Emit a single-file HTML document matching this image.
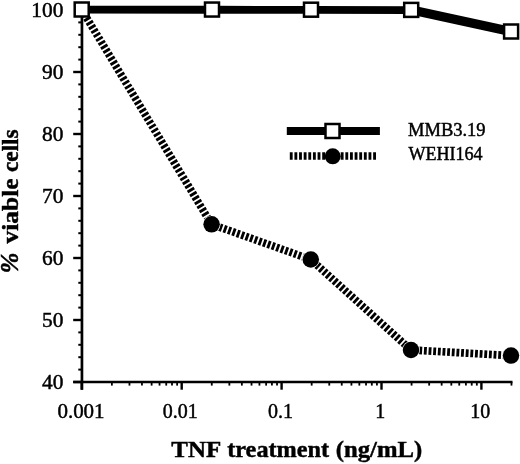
<!DOCTYPE html>
<html><head><meta charset="utf-8"><style>
html,body{margin:0;padding:0;background:#fff;}
body{width:520px;height:464px;overflow:hidden;}
svg{display:block;filter:grayscale(1) blur(0.35px);}
text{font-family:"Liberation Serif",serif;fill:#000;stroke:#000;stroke-width:0.45px;}
</style></head><body>
<svg width="520" height="464" viewBox="0 0 520 464">
<rect width="520" height="464" fill="#fff"/>

<g stroke="#000" fill="none">
<line x1="81.95" y1="9" x2="81.95" y2="389.7" stroke-width="2.7"/>
<line x1="73.2" y1="382.0" x2="512.5" y2="382.0" stroke-width="2.7"/>
<line x1="73.2" y1="382.00" x2="81.95" y2="382.00" stroke-width="2.4"/>
<line x1="78.3" y1="369.60" x2="81.95" y2="369.60" stroke-width="2"/>
<line x1="78.3" y1="357.20" x2="81.95" y2="357.20" stroke-width="2"/>
<line x1="78.3" y1="344.80" x2="81.95" y2="344.80" stroke-width="2"/>
<line x1="78.3" y1="332.40" x2="81.95" y2="332.40" stroke-width="2"/>
<line x1="73.2" y1="320.00" x2="81.95" y2="320.00" stroke-width="2.4"/>
<line x1="78.3" y1="307.60" x2="81.95" y2="307.60" stroke-width="2"/>
<line x1="78.3" y1="295.20" x2="81.95" y2="295.20" stroke-width="2"/>
<line x1="78.3" y1="282.80" x2="81.95" y2="282.80" stroke-width="2"/>
<line x1="78.3" y1="270.40" x2="81.95" y2="270.40" stroke-width="2"/>
<line x1="73.2" y1="258.00" x2="81.95" y2="258.00" stroke-width="2.4"/>
<line x1="78.3" y1="245.60" x2="81.95" y2="245.60" stroke-width="2"/>
<line x1="78.3" y1="233.20" x2="81.95" y2="233.20" stroke-width="2"/>
<line x1="78.3" y1="220.80" x2="81.95" y2="220.80" stroke-width="2"/>
<line x1="78.3" y1="208.40" x2="81.95" y2="208.40" stroke-width="2"/>
<line x1="73.2" y1="196.00" x2="81.95" y2="196.00" stroke-width="2.4"/>
<line x1="78.3" y1="183.60" x2="81.95" y2="183.60" stroke-width="2"/>
<line x1="78.3" y1="171.20" x2="81.95" y2="171.20" stroke-width="2"/>
<line x1="78.3" y1="158.80" x2="81.95" y2="158.80" stroke-width="2"/>
<line x1="78.3" y1="146.40" x2="81.95" y2="146.40" stroke-width="2"/>
<line x1="73.2" y1="134.00" x2="81.95" y2="134.00" stroke-width="2.4"/>
<line x1="78.3" y1="121.60" x2="81.95" y2="121.60" stroke-width="2"/>
<line x1="78.3" y1="109.20" x2="81.95" y2="109.20" stroke-width="2"/>
<line x1="78.3" y1="96.80" x2="81.95" y2="96.80" stroke-width="2"/>
<line x1="78.3" y1="84.40" x2="81.95" y2="84.40" stroke-width="2"/>
<line x1="73.2" y1="72.00" x2="81.95" y2="72.00" stroke-width="2.4"/>
<line x1="78.3" y1="59.60" x2="81.95" y2="59.60" stroke-width="2"/>
<line x1="78.3" y1="47.20" x2="81.95" y2="47.20" stroke-width="2"/>
<line x1="78.3" y1="34.80" x2="81.95" y2="34.80" stroke-width="2"/>
<line x1="78.3" y1="22.40" x2="81.95" y2="22.40" stroke-width="2"/>
<line x1="74.5" y1="10.00" x2="81.95" y2="10.00" stroke-width="2.4"/>
<line x1="81.80" y1="382.0" x2="81.80" y2="389.7" stroke-width="2.4"/>
<line x1="111.87" y1="382.0" x2="111.87" y2="385.6" stroke-width="1.8"/>
<line x1="129.46" y1="382.0" x2="129.46" y2="385.6" stroke-width="1.8"/>
<line x1="141.95" y1="382.0" x2="141.95" y2="385.6" stroke-width="1.8"/>
<line x1="151.63" y1="382.0" x2="151.63" y2="385.6" stroke-width="1.8"/>
<line x1="159.54" y1="382.0" x2="159.54" y2="385.6" stroke-width="1.8"/>
<line x1="166.23" y1="382.0" x2="166.23" y2="385.6" stroke-width="1.8"/>
<line x1="172.02" y1="382.0" x2="172.02" y2="385.6" stroke-width="1.8"/>
<line x1="177.13" y1="382.0" x2="177.13" y2="385.6" stroke-width="1.8"/>
<line x1="181.70" y1="382.0" x2="181.70" y2="389.7" stroke-width="2.4"/>
<line x1="211.77" y1="382.0" x2="211.77" y2="385.6" stroke-width="1.8"/>
<line x1="229.36" y1="382.0" x2="229.36" y2="385.6" stroke-width="1.8"/>
<line x1="241.85" y1="382.0" x2="241.85" y2="385.6" stroke-width="1.8"/>
<line x1="251.53" y1="382.0" x2="251.53" y2="385.6" stroke-width="1.8"/>
<line x1="259.44" y1="382.0" x2="259.44" y2="385.6" stroke-width="1.8"/>
<line x1="266.13" y1="382.0" x2="266.13" y2="385.6" stroke-width="1.8"/>
<line x1="271.92" y1="382.0" x2="271.92" y2="385.6" stroke-width="1.8"/>
<line x1="277.03" y1="382.0" x2="277.03" y2="385.6" stroke-width="1.8"/>
<line x1="281.60" y1="382.0" x2="281.60" y2="389.7" stroke-width="2.4"/>
<line x1="311.67" y1="382.0" x2="311.67" y2="385.6" stroke-width="1.8"/>
<line x1="329.26" y1="382.0" x2="329.26" y2="385.6" stroke-width="1.8"/>
<line x1="341.75" y1="382.0" x2="341.75" y2="385.6" stroke-width="1.8"/>
<line x1="351.43" y1="382.0" x2="351.43" y2="385.6" stroke-width="1.8"/>
<line x1="359.34" y1="382.0" x2="359.34" y2="385.6" stroke-width="1.8"/>
<line x1="366.03" y1="382.0" x2="366.03" y2="385.6" stroke-width="1.8"/>
<line x1="371.82" y1="382.0" x2="371.82" y2="385.6" stroke-width="1.8"/>
<line x1="376.93" y1="382.0" x2="376.93" y2="385.6" stroke-width="1.8"/>
<line x1="381.50" y1="382.0" x2="381.50" y2="389.7" stroke-width="2.4"/>
<line x1="411.57" y1="382.0" x2="411.57" y2="385.6" stroke-width="1.8"/>
<line x1="429.16" y1="382.0" x2="429.16" y2="385.6" stroke-width="1.8"/>
<line x1="441.65" y1="382.0" x2="441.65" y2="385.6" stroke-width="1.8"/>
<line x1="451.33" y1="382.0" x2="451.33" y2="385.6" stroke-width="1.8"/>
<line x1="459.24" y1="382.0" x2="459.24" y2="385.6" stroke-width="1.8"/>
<line x1="465.93" y1="382.0" x2="465.93" y2="385.6" stroke-width="1.8"/>
<line x1="471.72" y1="382.0" x2="471.72" y2="385.6" stroke-width="1.8"/>
<line x1="476.83" y1="382.0" x2="476.83" y2="385.6" stroke-width="1.8"/>
<line x1="481.40" y1="382.0" x2="481.40" y2="389.7" stroke-width="2.4"/>
<line x1="511.47" y1="382.0" x2="511.47" y2="385.6" stroke-width="1.8"/>
</g>
<line x1="81.8" y1="9.8" x2="211.6" y2="224.3" stroke="#000" stroke-width="7.7" stroke-dasharray="2.85 1.8" stroke-dashoffset="0"/>
<line x1="211.6" y1="224.3" x2="310.8" y2="259.5" stroke="#000" stroke-width="7.7" stroke-dasharray="2.85 1.8" stroke-dashoffset="1.0"/>
<line x1="310.8" y1="259.5" x2="411.0" y2="350.0" stroke="#000" stroke-width="7.7" stroke-dasharray="2.85 1.8" stroke-dashoffset="1.0"/>
<line x1="411.0" y1="350.0" x2="511.0" y2="355.6" stroke="#000" stroke-width="7.7" stroke-dasharray="2.85 1.8" stroke-dashoffset="1.0"/>
<circle cx="211.6" cy="224.3" r="8.9" fill="#fff"/>
<circle cx="211.6" cy="224.3" r="8.25" fill="#000"/>
<circle cx="310.8" cy="259.5" r="8.9" fill="#fff"/>
<circle cx="310.8" cy="259.5" r="8.25" fill="#000"/>
<circle cx="411.0" cy="350.0" r="8.9" fill="#fff"/>
<circle cx="411.0" cy="350.0" r="8.25" fill="#000"/>
<circle cx="511.0" cy="355.6" r="8.9" fill="#fff"/>
<circle cx="511.0" cy="355.6" r="8.25" fill="#000"/>
<polygon points="77.80,5.80 85.60,5.80 215.90,5.85 215.90,13.65 208.10,13.65 77.80,13.60" fill="#000"/>
<polygon points="208.10,5.85 215.90,5.85 314.90,6.00 314.90,13.80 307.10,13.80 208.10,13.65" fill="#000"/>
<polygon points="307.10,6.00 314.90,6.00 415.10,6.20 415.10,14.00 407.30,14.00 307.10,13.80" fill="#000"/>
<polygon points="407.30,6.00 415.10,6.00 515.00,27.60 515.00,35.40 507.20,35.40 407.30,13.80" fill="#000"/>
<rect x="74.70" y="2.50" width="14" height="14" fill="#fff" stroke="#000" stroke-width="2.5"/>
<rect x="205.00" y="2.55" width="14" height="14" fill="#fff" stroke="#000" stroke-width="2.5"/>
<rect x="304.00" y="2.70" width="14" height="14" fill="#fff" stroke="#000" stroke-width="2.5"/>
<rect x="404.20" y="2.90" width="14" height="14" fill="#fff" stroke="#000" stroke-width="2.5"/>
<rect x="504.10" y="24.50" width="14" height="14" fill="#fff" stroke="#000" stroke-width="2.5"/>
<line x1="286.8" y1="131" x2="379.9" y2="131" stroke="#000" stroke-width="8.2"/>
<rect x="325.5" y="124" width="14" height="14" fill="#fff" stroke="#000" stroke-width="2.5"/>
<line x1="289.8" y1="156.0" x2="376" y2="156.0" stroke="#000" stroke-width="7.7" stroke-dasharray="2.85 1.78"/>
<circle cx="332.7" cy="156.3" r="8.0" fill="#000"/>
<text transform="translate(408.0,135.7) scale(1.0,1)" font-size="18.5">MMB3.19</text>
<text transform="translate(408.4,160.4) scale(0.977,1)" font-size="18.5">WEHI164</text>
<text transform="translate(63.4,388.60) scale(1.07,1)" font-size="20" text-anchor="end">40</text>
<text transform="translate(63.4,326.60) scale(1.07,1)" font-size="20" text-anchor="end">50</text>
<text transform="translate(63.4,264.60) scale(1.07,1)" font-size="20" text-anchor="end">60</text>
<text transform="translate(63.4,202.60) scale(1.07,1)" font-size="20" text-anchor="end">70</text>
<text transform="translate(63.4,140.60) scale(1.07,1)" font-size="20" text-anchor="end">80</text>
<text transform="translate(63.4,78.60) scale(1.07,1)" font-size="20" text-anchor="end">90</text>
<text transform="translate(63.4,16.60) scale(1.07,1)" font-size="20" text-anchor="end">100</text>
<text transform="translate(81.00,417.8) scale(1.05,1)" font-size="20" text-anchor="middle">0.001</text>
<text transform="translate(180.20,417.8) scale(1,1)" font-size="20" text-anchor="middle">0.01</text>
<text transform="translate(280.40,417.8) scale(1,1)" font-size="20" text-anchor="middle">0.1</text>
<text transform="translate(380.30,417.8) scale(1,1)" font-size="20" text-anchor="middle">1</text>
<text transform="translate(480.20,417.8) scale(1,1)" font-size="20" text-anchor="middle">10</text>
<text transform="translate(171.3,457.4) scale(1.04,1)" font-size="24" font-weight="bold" stroke-width="0.2">TNF</text>
<text transform="translate(227.2,457.4) scale(1.012,1)" font-size="24" font-weight="bold" stroke-width="0.2">treatment</text>
<text transform="translate(335.8,457.4) scale(1.029,1)" font-size="24" font-weight="bold" stroke-width="0.2">(ng/mL)</text>
<text transform="translate(17.9,273.3) rotate(-90) scale(1.03,1.07)" font-size="24" font-style="italic" font-weight="bold" stroke-width="0">%</text>
<text transform="translate(17.8,243.5) rotate(-90) scale(1.06,1)" font-size="24" font-weight="bold" stroke-width="0.2">viable</text>
<text transform="translate(17.8,172.0) rotate(-90) scale(0.97,1)" font-size="24" font-weight="bold" stroke-width="0.2">cells</text>
</svg></body></html>
